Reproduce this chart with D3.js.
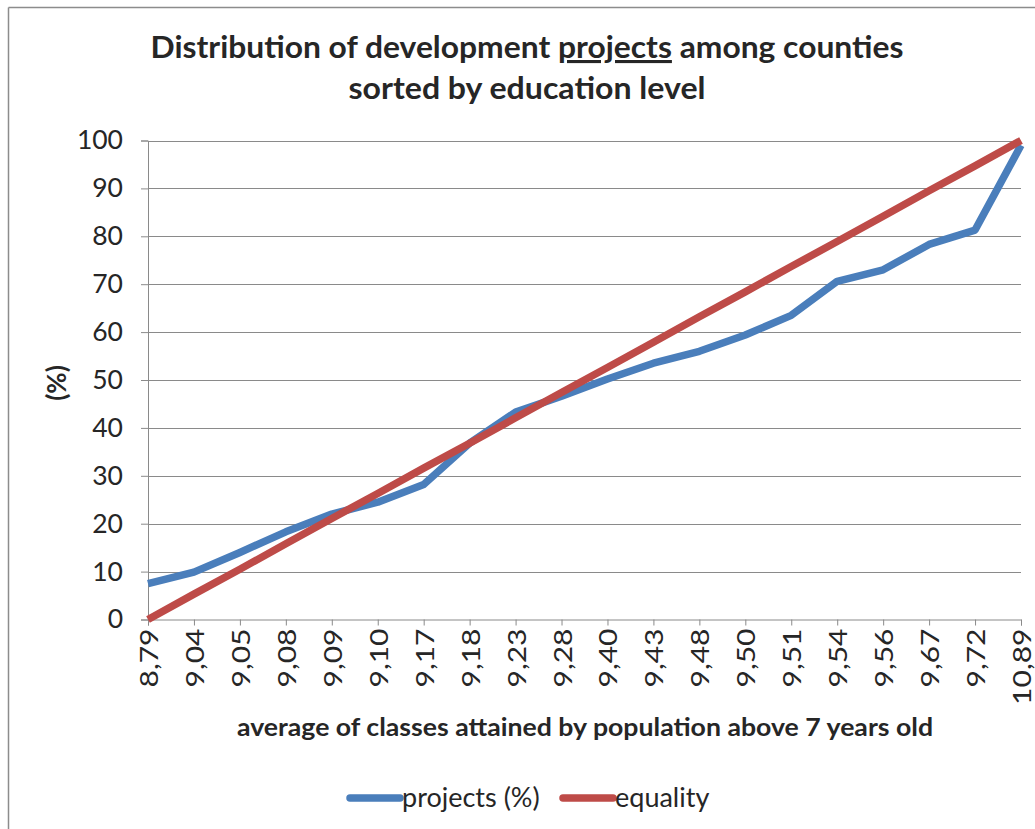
<!DOCTYPE html>
<html>
<head>
<meta charset="utf-8">
<script src="https://cdn.jsdelivr.net/npm/d3@7"></script>
<style>
  html, body { margin: 0; padding: 0; background: #fff; }
  svg { display: block; }
  text { font-family: Lato, "Open Sans", sans-serif; fill: #262626; }
</style>
</head>
<body>
<svg id="chart" width="1035" height="829"></svg>
<script>
// Average education level per county group (x axis categories)
const categories = ["8,79", "9,04", "9,05", "9,08", "9,09", "9,10", "9,17", "9,18", "9,23", "9,28",
                    "9,40", "9,43", "9,48", "9,50", "9,51", "9,54", "9,56", "9,67", "9,72", "10,89"];

// Cumulative share of development projects (%)
const projects = [7.5, 9.9, 14.0, 18.3, 22.0, 24.5, 28.2, 36.8, 43.3, 46.6,
                  50.2, 53.5, 56.0, 59.4, 63.5, 70.6, 73.0, 78.3, 81.3, 99.0];

// Line of perfect equality (%)
const equality = [0, 5.3, 10.5, 15.8, 21.1, 26.3, 31.6, 36.8, 42.1, 47.4,
                  52.6, 57.9, 63.2, 68.4, 73.7, 78.9, 84.2, 89.5, 94.7, 100];

const yTicks = [0, 10, 20, 30, 40, 50, 60, 70, 80, 90, 100];

const seriesNames = ["projects (%)", "equality"];
const colors = ["#4A7EBB", "#BE4B48"];

const svg = d3.select("#chart");
const W = 1035, H = 829;
const plot = { left: 148, right: 1021, top: 140.5, bottom: 619.5 };

// outer frame (only top and left edges are visible)
svg.append("line").attr("x1", 8.5).attr("x2", W).attr("y1", 7.5).attr("y2", 7.5)
  .attr("stroke", "#8c8c8c").attr("stroke-width", 1.5);
svg.append("line").attr("x1", 8.5).attr("x2", 8.5).attr("y1", 7.5).attr("y2", H)
  .attr("stroke", "#8c8c8c").attr("stroke-width", 1.5);

const x = d3.scalePoint().domain(categories).range([plot.left, plot.right]);
const y = d3.scaleLinear().domain([0, 100]).range([plot.bottom, plot.top]);

// horizontal gridlines
svg.append("g")
  .selectAll("line")
  .data(yTicks.filter(d => d > 0))
  .join("line")
  .attr("x1", plot.left).attr("x2", plot.right)
  .attr("y1", d => Math.round(y(d)) + 0.5).attr("y2", d => Math.round(y(d)) + 0.5)
  .attr("stroke", "#8a8a8a").attr("stroke-width", 1);

// y axis
const yAxis = svg.append("g")
  .attr("transform", `translate(${plot.left},0)`)
  .call(d3.axisLeft(y).tickValues(yTicks).tickSize(7).tickPadding(18).tickFormat(d3.format("d")));
yAxis.select(".domain").attr("stroke", "#8a8a8a");
yAxis.selectAll(".tick line").attr("stroke", "#8a8a8a");
yAxis.selectAll(".tick text")
  .style("font-family", "Lato, sans-serif").style("font-size", "26.5px").attr("fill", "#262626");

// x axis with vertical category labels
const xAxis = svg.append("g")
  .attr("transform", `translate(0,${plot.bottom})`)
  .call(d3.axisBottom(x).tickSize(6).tickPadding(0));
xAxis.select(".domain").attr("stroke", "#8a8a8a");
xAxis.selectAll(".tick line").attr("stroke", "#8a8a8a");
xAxis.selectAll(".tick text")
  .style("font-family", "Lato, sans-serif").style("font-size", "25px").attr("fill", "#262626")
  .attr("text-anchor", "end")
  .attr("dy", null)
  .attr("transform", "translate(0,9) scale(1,1.2) rotate(-90)")
  .attr("x", 0).attr("y", 0)
  .attr("dominant-baseline", "central");

// series lines
const line = d3.line().x((d, i) => x(categories[i])).y(d => y(d)).curve(d3.curveLinear);
[projects, equality].forEach((vals, k) => {
  svg.append("path")
    .datum(vals)
    .attr("d", line)
    .attr("fill", "none")
    .attr("stroke", colors[k])
    .attr("stroke-width", 7.5)
    .attr("stroke-linejoin", "round")
    .attr("stroke-linecap", "butt");
});

// title
const title = svg.append("text")
  .attr("x", 527).attr("y", 58)
  .attr("text-anchor", "middle")
  .attr("textLength", 753).attr("lengthAdjust", "spacingAndGlyphs")
  .style("font-size", "31px").style("font-weight", "bold");
title.append("tspan").text("Distribution of development ");
title.append("tspan").text("projects").style("text-decoration", "underline");
title.append("tspan").text(" among counties");
svg.append("text")
  .attr("x", 527).attr("y", 99)
  .attr("text-anchor", "middle")
  .attr("textLength", 357).attr("lengthAdjust", "spacingAndGlyphs")
  .style("font-size", "31px").style("font-weight", "bold")
  .text("sorted by education level");

// axis titles
svg.append("text")
  .attr("transform", "translate(66,383) rotate(-90)")
  .attr("text-anchor", "middle")
  .style("font-size", "26px").style("font-weight", "bold")
  .text("(%)");
svg.append("text")
  .attr("x", 585).attr("y", 736)
  .attr("text-anchor", "middle")
  .attr("textLength", 696).attr("lengthAdjust", "spacingAndGlyphs")
  .style("font-size", "25px").style("font-weight", "bold")
  .text("average of classes attained by population above 7 years old");

// legend
const legend = svg.append("g").attr("transform", "translate(0,798)");
const legendX = [350, 563];
seriesNames.forEach((name, k) => {
  legend.append("line")
    .attr("x1", legendX[k]).attr("x2", legendX[k] + 50)
    .attr("y1", 0).attr("y2", 0)
    .attr("stroke", colors[k]).attr("stroke-width", 7.5).attr("stroke-linecap", "round");
  legend.append("text")
    .attr("x", legendX[k] + 52).attr("y", 9)
    .style("font-size", "27px")
    .text(name);
});
</script>
</body>
</html>
